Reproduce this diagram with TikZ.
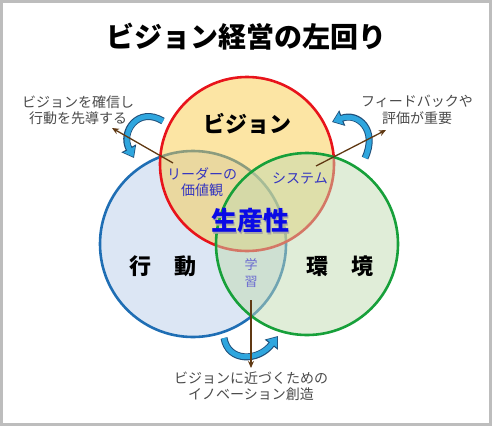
\documentclass[tikz,border=0pt]{standalone}
\usepackage{fontspec}
\setmainfont{Noto Sans CJK JP}
\usepackage{tikz}
\usetikzlibrary{arrows.meta,positioning}
\usetikzlibrary{calc}
\definecolor{framegray}{HTML}{BDBDBD}
\definecolor{visionline}{HTML}{E8141B}
\definecolor{visionfill}{HTML}{F9CB4A}
\definecolor{actionline}{HTML}{1F6EB4}
\definecolor{actionfill}{HTML}{B9CDE9}
\definecolor{envline}{HTML}{17A03A}
\definecolor{envfill}{HTML}{C1DBB1}
\definecolor{innerblue}{HTML}{3535C0}
\definecolor{learnblue}{HTML}{6A6AD0}
\definecolor{prodblue}{HTML}{0A0AE6}
\definecolor{notegray}{HTML}{4A4A4A}
\definecolor{leadbrown}{HTML}{603913}
\definecolor{turnblue}{HTML}{2FA6DE}
\definecolor{turnedge}{HTML}{1F4E79}
\tikzset{
  ring/.style={line width=2.6pt, fill opacity=0.5},
  big/.style={font=\fontsize{22}{24}\selectfont\bfseries},
  inner/.style={text=innerblue, font=\fontsize{14}{16.5}\selectfont, align=center},
  note/.style={text=notegray, font=\fontsize{14}{16.5}\selectfont, align=center},
  lead/.style={draw=leadbrown, line width=1.3pt, -{Stealth[length=7pt,width=6pt]}},
  turn/.style={draw=turnedge, line width=7pt, -{Triangle[width=16pt,length=11pt]},
    postaction={draw=turnblue, line width=5pt, -{Triangle[width=12.5pt,length=8.5pt]}, shorten >=1.3pt}}
}
\newcommand{\shadowed}[1]{\rlap{\hspace{1.8pt}\raisebox{-1.8pt}{\color{black!35}#1}}#1}
\begin{document}
\begin{tikzpicture}[x=1pt,y=-1pt]
\useasboundingbox (0,0) rectangle (492,426);
\draw[framegray, line width=3pt] (1.5,1.5) rectangle (490.5,424.5);
\coordinate (V) at (247,164);
\coordinate (A) at (193,244);
\coordinate (E) at (307,244);
\draw[ring, draw=actionline, fill=actionfill] (A) circle (93pt);
\draw[ring, draw=visionline, fill=visionfill] (V) circle (87pt);
\draw[ring, draw=envline, fill=envfill] (E) circle (91pt);
\node[font=\fontsize{28}{30}\selectfont\bfseries] (title) at (246,37) {ビジョン経営の左回り};
\node[big] (vision) at (247,124) {ビジョン};
\node[big] (action) at (163,266) {行\hspace{24pt}動};
\node[big] (env) at (340,266) {環\hspace{24pt}境};
\node[font=\fontsize{26}{28}\selectfont\bfseries, text=prodblue] (prod) at (250,222) {\shadowed{生産性}};
\node[inner] (leader) at (202,182) {リーダーの\\価値観};
\node[inner] (system) at (300,178) {システム};
\node[inner, text=learnblue, font=\fontsize{13}{17}\selectfont] (learn) at (251,273) {学\\習};
\node[note] (lnote) at (78,110) {ビジョンを確信し\\行動を先導する};
\node[note] (rnote) at (417,110) {フィードバックや\\評価が重要};
\node[note] (bnote) at (251,386) {ビジョンに近づくための\\イノベーション創造};
\coordinate (lt) at (163,121);
\coordinate (lh) at (134,158);
\coordinate (rt) at (365,158);
\coordinate (rh) at (332,122);
\coordinate (bt) at (224,338);
\coordinate (bh) at (278,336);
\draw[turn] (lt) .. controls (138,106) and (120,132) .. (lh);
\draw[turn] (rt) .. controls (378,130) and (358,112) .. (rh);
\draw[turn] (bt) .. controls (228,362) and (258,362) .. (bh);
\coordinate (lfrom) at (173,163);
\coordinate (lto) at (112,128);
\coordinate (rfrom) at (316,166);
\coordinate (rto) at (386,130);
\coordinate (bfrom) at (251,300);
\coordinate (bto) at (251,368);
\draw[lead] (lfrom) -- (lto);
\draw[lead] (rfrom) -- (rto);
\draw[lead] (bfrom) -- (bto);
\end{tikzpicture}
\end{document}
